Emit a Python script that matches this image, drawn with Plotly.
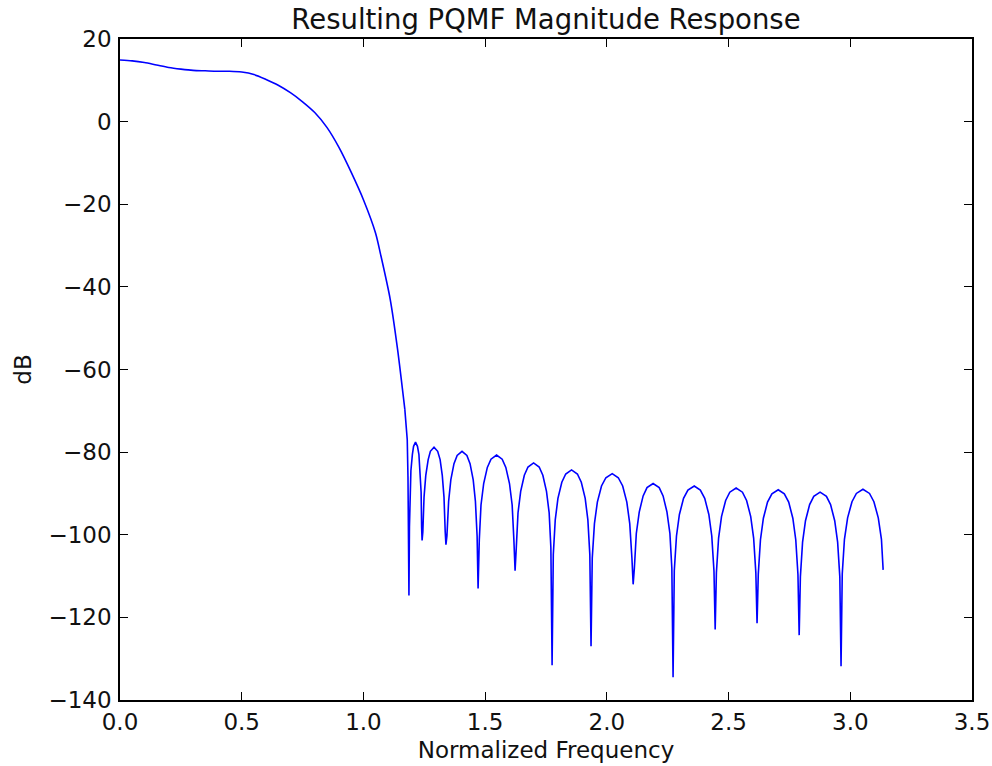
import plotly.graph_objects as go

# passband + transition band
freq_pass = [0.00, 0.05, 0.10, 0.15, 0.20, 0.25, 0.30, 0.35, 0.40, 0.45, 0.50,
             0.55, 0.60, 0.65, 0.70, 0.75, 0.80, 0.85, 0.90, 0.95, 1.00,
             1.05, 1.07, 1.11, 1.14, 1.17]
db_pass = [14.9, 14.7, 14.3, 13.7, 13.1, 12.7, 12.4, 12.3, 12.2, 12.2, 12.0,
           11.4, 10.2, 8.8, 7.0, 4.8, 2.2, -1.4, -6.3, -12.3, -18.9,
           -27.0, -32.0, -43.0, -55.0, -69.6]

# stopband ripples
freq_stop = [
    1.17, 1.18, 1.183, 1.187,
    1.189, 1.191, 1.195, 1.201, 1.206, 1.214, 1.222, 1.228, 1.233, 1.237, 1.239, 1.241,
    1.244, 1.249, 1.256, 1.266, 1.275, 1.290, 1.305, 1.315, 1.324, 1.331, 1.336, 1.339,
    1.343, 1.350, 1.359, 1.372, 1.385, 1.405, 1.425, 1.438, 1.451, 1.460, 1.467, 1.471,
    1.476, 1.483, 1.494, 1.509, 1.524, 1.547, 1.570, 1.585, 1.600, 1.611, 1.618, 1.623,
    1.628, 1.635, 1.646, 1.661, 1.676, 1.699, 1.722, 1.737, 1.752, 1.763, 1.770, 1.775,
    1.780, 1.788, 1.799, 1.815, 1.831, 1.855, 1.879, 1.895, 1.911, 1.922, 1.930, 1.935,
    1.940, 1.949, 1.961, 1.978, 1.996, 2.022, 2.047, 2.065, 2.082, 2.094, 2.103, 2.108,
    2.113, 2.121, 2.133, 2.149, 2.165, 2.190, 2.215, 2.231, 2.247, 2.259, 2.267, 2.272,
    2.277, 2.286, 2.298, 2.315, 2.333, 2.359, 2.384, 2.402, 2.419, 2.431, 2.440, 2.445,
    2.450, 2.459, 2.471, 2.488, 2.505, 2.531, 2.557, 2.574, 2.591, 2.603, 2.612, 2.617,
    2.622, 2.631, 2.643, 2.660, 2.678, 2.704, 2.729, 2.747, 2.764, 2.776, 2.785, 2.790,
    2.795, 2.804, 2.816, 2.833, 2.850, 2.876, 2.902, 2.919, 2.936, 2.948, 2.957, 2.962,
    2.967, 2.976, 2.989, 3.007, 3.025, 3.052, 3.079, 3.097, 3.115, 3.128, 3.135,
]
db_stop = [
    -69.6, -77.0, -86.0, -114.7,
    -98.1, -89.7, -84.5, -80.6, -78.6, -77.6, -78.6, -80.6, -84.5, -89.7, -98.1, -101.4,
    -99.3, -90.9, -85.7, -81.8, -79.8, -78.8, -79.8, -81.8, -85.7, -90.9, -99.3, -102.4,
    -100.3, -91.9, -86.7, -82.8, -80.8, -79.8, -80.8, -82.8, -86.7, -91.9, -100.3, -113.0,
    -101.2, -92.8, -87.6, -83.7, -81.7, -80.7, -81.7, -83.7, -87.6, -92.8, -101.2, -108.7,
    -103.1, -94.7, -89.5, -85.6, -83.6, -82.6, -83.6, -85.6, -89.5, -94.7, -103.1, -131.6,
    -104.8, -96.4, -91.2, -87.3, -85.3, -84.3, -85.3, -87.3, -91.2, -96.4, -104.8, -127.0,
    -105.7, -97.3, -92.1, -88.2, -86.2, -85.2, -86.2, -88.2, -92.1, -97.3, -105.7, -112.0,
    -108.1, -99.7, -94.5, -90.6, -88.6, -87.6, -88.6, -90.6, -94.5, -99.7, -108.1, -134.5,
    -108.7, -100.3, -95.1, -91.2, -89.2, -88.2, -89.2, -91.2, -95.1, -100.3, -108.7, -122.9,
    -109.2, -100.8, -95.6, -91.7, -89.7, -88.7, -89.7, -91.7, -95.6, -100.8, -109.2, -121.4,
    -109.6, -101.2, -96.0, -92.1, -90.1, -89.1, -90.1, -92.1, -96.0, -101.2, -109.6, -124.3,
    -110.2, -101.8, -96.6, -92.7, -90.7, -89.7, -90.7, -92.7, -96.6, -101.8, -110.2, -131.8,
    -109.5, -101.1, -95.9, -92.0, -90.0, -89.0, -90.0, -92.0, -95.9, -101.1, -108.5,
]

x_ticks = [0.0, 0.5, 1.0, 1.5, 2.0, 2.5, 3.0, 3.5]
y_ticks = [20, 0, -20, -40, -60, -80, -100, -120, -140]

fig = go.Figure()
# smooth passband, sharp-notched stopband
fig.add_trace(go.Scatter(x=freq_pass, y=db_pass, mode="lines", line=dict(color="#0000ff", width=1.6, shape="spline", smoothing=0.8), showlegend=False))
fig.add_trace(go.Scatter(x=freq_stop, y=db_stop, mode="lines", line=dict(color="#0000ff", width=1.6), showlegend=False))

font = "DejaVu Sans"
axis_style = dict(
    showline=True, linecolor="black", linewidth=1.5, mirror="ticks",
    ticks="inside", ticklen=8, tickwidth=1, tickcolor="black",
    showgrid=False, zeroline=False, automargin=False,
    tickfont=dict(family=font, size=23, color="#111111"),
)

fig.update_layout(
    width=992, height=766,
    margin=dict(l=119.5, r=20, t=39, b=66),
    paper_bgcolor="white", plot_bgcolor="white",
    title=dict(text="Resulting PQMF Magnitude Response", x=0.5, xref="paper", xanchor="center",
               y=0.975, yref="container", yanchor="middle",
               font=dict(family=font, size=27.5, color="#111111")),
    xaxis=dict(range=[0, 3.5], tickvals=x_ticks, ticktext=[f"{v:.1f}" for v in x_ticks],
               ticklabelstandoff=1,
               title=dict(text="Normalized Frequency", font=dict(family=font, size=23, color="#111111"),
                          standoff=8),
               **axis_style),
    yaxis=dict(range=[-140, 20], tickvals=y_ticks, ticktext=[str(v).replace("-", "\u2212") for v in y_ticks],
               ticklabelstandoff=2,
               title=dict(text="dB", font=dict(family=font, size=23, color="#111111"), standoff=10),
               **axis_style),
)

# drop the default 8px page margin so the figure fills the window
fig.write_html("out.html", config={"displayModeBar": False},
               post_script="document.body.style.margin='0';")
